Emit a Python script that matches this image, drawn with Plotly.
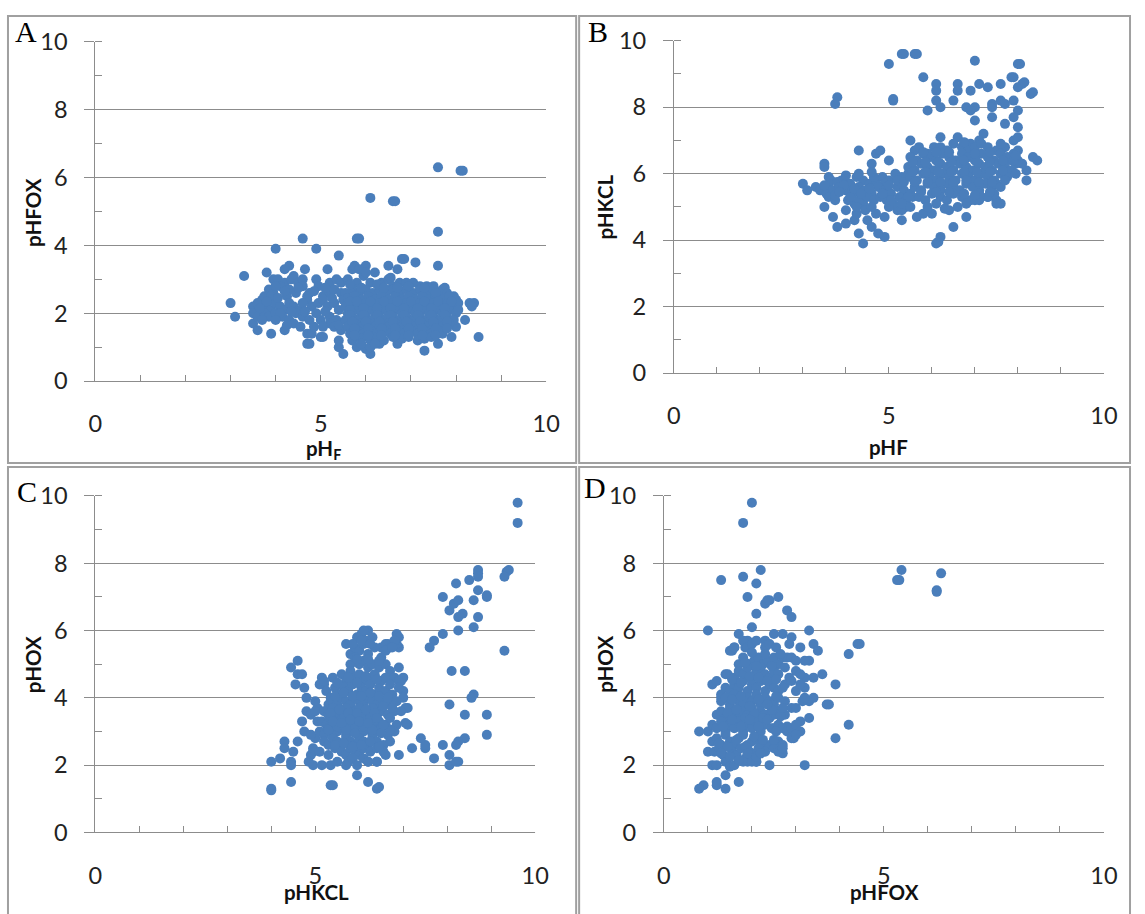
import plotly.graph_objects as go

W, H = 1145, 914
BLUE = "#4A7EBB"
GREY = "#8C8C8C"

# A: pH_F (x) vs pHFOX (y)
pts_a = [
    (7.6, 6.3), (8.1, 6.2), (8.15, 6.2), (6.1, 5.4), (6.6, 5.3), (6.65, 5.3),
    (7.6, 4.4), (4.6, 4.2), (5.8, 4.2), (5.85, 4.2), (4.0, 3.9), (4.9, 3.9),
    (5.4, 3.7), (6.8, 3.6), (6.85, 3.6), (7.1, 3.5), (7.6, 3.4), (3.3, 3.1),
    (3.0, 2.3), (3.1, 1.9), (8.5, 1.3), (3.5, 2.2), (3.5, 2.0), (3.5, 1.7),
    (3.6, 1.5), (3.7, 2.4), (3.8, 3.2), (3.9, 1.4), (4.2, 1.5), (4.7, 1.1),
    (4.75, 1.1), (5.0, 1.3), (5.05, 1.3), (5.4, 1.0), (5.5, 0.8), (5.4, 1.2),
    (6.1, 0.8), (6.0, 0.95), (6.3, 1.1), (6.7, 1.1), (7.3, 0.9), (7.6, 1.1),
    (7.9, 1.3), (8.0, 1.6), (8.2, 1.8), (8.3, 2.3), (8.4, 2.3), (8.35, 2.2),
    (5.15, 3.3), (6.0, 3.4), (6.5, 3.4), (6.7, 3.3), (5.7, 3.3), (5.75, 3.4),
    (4.65, 3.3), (4.3, 3.4), (4.2, 3.3), (4.4, 3.1),
    (3.95, 3.0), (4.05, 3.0), (4.2, 2.9), (4.35, 3.0), (4.5, 2.9), (4.6, 3.0),
    (4.9, 3.0), (5.2, 2.9), (5.35, 3.0), (5.45, 2.9), (4.1, 2.8),
    (3.85, 2.7), (3.95, 2.6), (4.0, 2.8), (4.3, 2.7), (4.45, 2.6), (4.6, 2.8),
    (4.75, 2.6), (4.7, 2.5), (4.95, 2.8), (5.05, 2.5), (5.2, 2.6), (5.3, 2.7),
    (5.45, 2.6), (4.25, 2.5), (3.75, 2.5), (3.9, 2.5),
    (3.6, 2.3), (3.8, 2.2), (3.9, 2.1), (4.0, 2.3), (4.1, 2.2), (4.2, 2.1),
    (4.3, 2.3), (4.4, 2.2), (4.55, 2.1), (4.7, 2.4), (4.8, 2.2), (4.95, 2.3),
    (5.05, 2.4), (5.15, 2.2), (5.3, 2.3), (5.4, 2.1), (5.5, 2.4), (3.7, 2.1),
    (4.6, 2.3),
    (3.6, 1.9), (3.75, 2.0), (3.85, 1.9), (4.0, 2.0), (4.15, 1.9), (4.3, 1.8),
    (4.45, 2.0), (4.6, 1.9), (4.75, 1.8), (4.9, 2.0), (5.0, 1.8), (5.2, 1.9),
    (5.35, 1.8), (4.1, 2.0),
    (4.4, 1.7), (4.55, 1.6), (4.7, 1.4), (4.8, 1.4), (4.85, 1.6), (5.2, 1.7),
    (5.3, 1.6), (5.45, 1.5),
    (3.65, 2.15), (3.8, 2.35), (4.05, 2.45), (4.2, 2.65), (4.5, 2.75), (4.85, 2.65),
    (5.1, 2.75), (4.35, 2.05), (4.65, 2.05), (5.1, 2.05), (5.25, 2.45), (4.0, 1.8),
    (4.25, 1.65), (5.05, 1.6), (5.4, 1.65), (3.7, 1.8),
    (5.6, 3.0), (5.8, 2.9), (5.95, 3.1), (6.1, 2.9), (6.2, 3.2), (6.35, 2.9),
    (6.5, 3.0), (6.55, 3.05), (6.6, 2.8), (6.75, 2.9), (6.9, 2.9), (7.05, 2.9),
    (7.2, 2.8), (7.35, 2.8), (7.5, 2.8), (7.7, 2.7), (5.85, 3.3), (6.0, 3.2),
    (7.75, 2.75),
    (5.55, 2.6), (5.7, 2.7), (5.85, 2.6), (6.0, 2.7), (6.15, 2.6), (6.3, 2.7),
    (6.45, 2.6), (6.6, 2.7), (6.75, 2.6), (6.9, 2.7), (7.05, 2.6), (7.2, 2.7),
    (7.35, 2.6), (7.5, 2.7), (7.65, 2.6), (7.8, 2.6), (7.95, 2.5),
    (5.6, 2.45), (5.75, 2.5), (5.9, 2.4), (6.05, 2.5), (6.2, 2.4), (6.35, 2.5),
    (6.5, 2.4), (6.65, 2.5), (6.8, 2.4), (6.95, 2.5), (7.1, 2.4), (7.25, 2.5),
    (7.4, 2.4), (7.55, 2.5), (7.7, 2.4), (7.85, 2.5), (8.0, 2.4),
    (5.55, 2.2), (5.7, 2.3), (5.85, 2.2), (6.0, 2.3), (6.15, 2.2), (6.3, 2.3),
    (6.45, 2.2), (6.6, 2.3), (6.75, 2.2), (6.9, 2.3), (7.05, 2.2), (7.2, 2.3),
    (7.35, 2.2), (7.5, 2.3), (7.65, 2.2), (7.8, 2.3), (7.95, 2.2), (8.05, 2.3),
    (5.6, 2.0), (5.75, 2.1), (5.9, 2.0), (6.05, 2.1), (6.2, 2.0), (6.35, 2.1),
    (6.5, 2.0), (6.65, 2.1), (6.8, 2.0), (6.95, 2.1), (7.1, 2.0), (7.25, 2.1),
    (7.4, 2.0), (7.55, 2.1), (7.7, 2.0), (7.85, 2.1), (8.0, 2.0),
    (5.55, 1.8), (5.7, 1.9), (5.85, 1.8), (6.0, 1.9), (6.15, 1.8), (6.3, 1.9),
    (6.45, 1.8), (6.6, 1.9), (6.75, 1.8), (6.9, 1.9), (7.05, 1.8), (7.2, 1.9),
    (7.35, 1.8), (7.5, 1.9), (7.65, 1.8), (7.8, 1.9), (7.95, 1.8),
    (5.6, 1.6), (5.75, 1.7), (5.9, 1.6), (6.05, 1.7), (6.2, 1.6), (6.35, 1.7),
    (6.5, 1.6), (6.65, 1.7), (6.8, 1.6), (6.95, 1.7), (7.1, 1.6), (7.25, 1.7),
    (7.4, 1.6), (7.55, 1.7), (7.7, 1.6), (7.85, 1.7),
    (5.65, 1.4), (5.8, 1.5), (5.95, 1.4), (6.1, 1.5), (6.25, 1.4), (6.4, 1.5),
    (6.55, 1.4), (6.7, 1.5), (6.85, 1.4), (7.0, 1.5), (7.15, 1.4), (7.3, 1.5),
    (7.45, 1.4), (7.6, 1.5), (7.7, 1.4),
    (5.7, 1.2), (5.9, 1.25), (6.1, 1.2), (6.25, 1.3), (6.4, 1.2), (6.6, 1.3),
    (6.8, 1.25), (6.95, 1.3), (7.15, 1.2), (7.3, 1.25), (7.45, 1.3),
    (5.8, 1.0), (5.9, 1.1), (6.1, 1.0), (6.2, 1.1),
    (5.65, 2.85), (5.9, 2.75), (6.25, 2.85), (6.4, 2.75), (6.7, 2.75), (6.95, 2.8),
    (7.3, 2.75), (7.55, 2.6),
    (5.65, 2.35), (5.8, 2.35), (6.1, 2.35), (6.4, 2.35), (6.7, 2.35), (7.0, 2.35),
    (7.3, 2.35), (7.6, 2.35), (7.9, 2.35),
    (5.65, 2.1), (5.95, 2.15), (6.25, 2.15), (6.55, 2.15), (6.85, 2.15), (7.15, 2.15),
    (7.45, 2.15), (7.75, 2.15), (8.05, 2.1),
    (5.65, 1.95), (5.95, 1.95), (6.25, 1.95), (6.55, 1.95), (6.85, 1.95), (7.15, 1.95),
    (7.45, 1.95), (7.75, 1.95),
    (5.7, 1.75), (6.0, 1.75), (6.3, 1.75), (6.6, 1.75), (6.9, 1.75), (7.2, 1.75),
    (7.5, 1.75), (7.8, 1.75),
    (5.75, 1.55), (6.05, 1.55), (6.35, 1.55), (6.65, 1.55), (6.95, 1.55), (7.25, 1.55),
    (7.55, 1.55), (7.8, 1.55),
    (5.75, 1.35), (6.05, 1.35), (6.35, 1.35), (6.65, 1.35), (6.95, 1.35), (7.25, 1.35),
    (7.55, 1.35),
]

# B: pHF (x) vs pHKCL (y)
pts_b = [
    (5.3, 9.6), (5.35, 9.6), (5.6, 9.6), (5.65, 9.6), (5.0, 9.3), (7.0, 9.4),
    (8.0, 9.3), (8.05, 9.3), (5.8, 8.9), (6.1, 8.7), (6.1, 8.5), (6.6, 8.7),
    (6.9, 8.5), (7.1, 8.7), (7.3, 8.6), (7.6, 8.7), (7.85, 8.9), (7.9, 8.9),
    (8.0, 8.6), (8.1, 8.7), (8.15, 8.75), (8.3, 8.4), (8.35, 8.45), (3.8, 8.3),
    (3.75, 8.1), (5.1, 8.2), (5.1, 8.25), (6.6, 8.5), (6.5, 8.2), (6.1, 8.2),
    (6.2, 8.0), (5.9, 7.9), (6.8, 8.0), (7.0, 8.0), (6.9, 7.9), (7.4, 8.1),
    (7.4, 8.0), (7.6, 8.2), (7.7, 8.1), (7.9, 8.2), (8.0, 7.9), (7.4, 7.7),
    (7.0, 7.6), (7.7, 7.5), (7.9, 7.7), (8.0, 7.4), (7.9, 7.0), (8.0, 7.1),
    (7.2, 7.2), (7.1, 7.0), (6.2, 7.1), (6.6, 7.1), (5.5, 7.0), (6.9, 6.9),
    (7.7, 6.8),
    (3.0, 5.7), (3.1, 5.5), (3.3, 5.6), (3.5, 6.3), (3.5, 6.2), (3.5, 5.0),
    (3.6, 5.9), (3.6, 5.6), (3.7, 4.7), (3.8, 4.4), (3.9, 5.8), (4.0, 4.9),
    (4.0, 4.5), (4.3, 6.7), (4.3, 4.2), (4.4, 3.9), (4.6, 6.3), (4.7, 6.6),
    (4.8, 6.7), (4.7, 4.8), (4.9, 4.1), (4.9, 4.7), (5.0, 6.4), (5.3, 4.6),
    (4.75, 4.2), (4.6, 4.4), (4.5, 4.6), (4.2, 4.6), (4.25, 4.8), (4.4, 5.1),
    (4.2, 5.1), (4.05, 5.2), (5.2, 4.9), (5.4, 5.0), (5.65, 4.7), (5.8, 4.8),
    (6.0, 4.8), (6.1, 3.9), (6.15, 3.95), (6.2, 4.1), (6.4, 4.9), (6.5, 4.4),
    (6.8, 4.7), (7.5, 5.2), (7.6, 5.1), (7.5, 5.1), (7.0, 5.2), (7.1, 5.2),
    (7.3, 5.3), (8.2, 5.8), (8.2, 6.1), (8.1, 6.3), (8.35, 6.5), (8.45, 6.4),
    (7.85, 6.4), (8.0, 6.4), (7.5, 5.7), (7.0, 5.6), (7.9, 6.6), (8.0, 6.7),
    (7.95, 6.3),
    (3.65, 5.8), (3.8, 5.75), (3.95, 5.8), (4.1, 5.7), (4.25, 5.9), (4.4, 5.8),
    (4.55, 5.7), (4.7, 5.8), (4.85, 5.9), (5.0, 5.8), (5.15, 6.0), (5.3, 5.9),
    (5.45, 6.0), (4.3, 6.0), (4.9, 5.7),
    (3.4, 5.5), (3.55, 5.4), (3.7, 5.5), (3.85, 5.6), (4.0, 5.5), (4.15, 5.4),
    (4.3, 5.6), (4.45, 5.5), (4.6, 5.4), (4.75, 5.6), (4.9, 5.5), (5.05, 5.4),
    (5.2, 5.6), (5.35, 5.5), (5.5, 5.4),
    (3.6, 5.3), (3.75, 5.2), (4.1, 5.3), (4.3, 5.2), (4.5, 5.3), (4.65, 5.2),
    (4.8, 5.3), (4.95, 5.2), (5.1, 5.1), (5.25, 5.3), (5.4, 5.2), (5.55, 5.3),
    (4.25, 5.0), (4.45, 4.9), (4.6, 5.0), (5.0, 5.0), (5.3, 4.9), (5.5, 5.0),
    (3.5, 5.65), (3.75, 5.35), (3.95, 5.65), (4.2, 5.55), (4.35, 5.4), (4.55, 5.55),
    (4.65, 5.9), (4.85, 5.4), (5.0, 5.65), (5.2, 5.8), (5.35, 5.75), (5.45, 5.3),
    (4.0, 5.95), (4.6, 6.05), (3.85, 5.45), (5.05, 5.2), (5.3, 5.1),
    (5.6, 6.7), (5.7, 6.8), (5.9, 6.6), (6.05, 6.8), (6.2, 6.8), (6.35, 6.7),
    (6.5, 6.9), (6.7, 6.8), (6.85, 6.7), (7.0, 6.8), (7.15, 6.9), (7.3, 6.8),
    (7.5, 6.7), (7.65, 6.8),
    (5.5, 6.5), (5.65, 6.4), (5.8, 6.6), (5.95, 6.5), (6.1, 6.4), (6.25, 6.6),
    (6.4, 6.5), (6.55, 6.4), (6.7, 6.6), (6.85, 6.5), (7.0, 6.4), (7.15, 6.6),
    (7.3, 6.5), (7.45, 6.4), (7.6, 6.6), (7.75, 6.5), (7.9, 6.4),
    (5.45, 6.2), (5.6, 6.1), (5.75, 6.3), (5.9, 6.2), (6.05, 6.1), (6.2, 6.3),
    (6.35, 6.2), (6.5, 6.1), (6.65, 6.3), (6.8, 6.2), (6.95, 6.1), (7.1, 6.3),
    (7.25, 6.2), (7.4, 6.1), (7.55, 6.3), (7.7, 6.2), (7.85, 6.1),
    (5.5, 5.9), (5.65, 5.8), (5.8, 6.0), (5.95, 5.9), (6.1, 5.8), (6.25, 6.0),
    (6.4, 5.9), (6.55, 5.8), (6.7, 6.0), (6.85, 5.9), (7.0, 5.8), (7.15, 6.0),
    (7.3, 5.9), (7.45, 5.8), (7.6, 6.0), (7.75, 5.9),
    (5.6, 5.6), (5.75, 5.5), (5.9, 5.7), (6.05, 5.6), (6.2, 5.5), (6.35, 5.7),
    (6.5, 5.6), (6.65, 5.5), (6.8, 5.7), (6.95, 5.6), (7.1, 5.5), (7.25, 5.7),
    (7.4, 5.6), (7.6, 5.6), (7.7, 5.8),
    (5.7, 5.3), (5.85, 5.2), (6.0, 5.4), (6.2, 5.3), (6.35, 5.2), (6.5, 5.4),
    (6.7, 5.3), (6.9, 5.2), (7.1, 5.4), (7.3, 5.3), (7.45, 5.4),
    (5.9, 5.0), (6.1, 5.1), (6.3, 4.95), (6.6, 5.0), (6.8, 5.1),
    (5.55, 6.35), (5.85, 6.35), (6.15, 6.35), (6.45, 6.35), (6.75, 6.4), (7.05, 6.35),
    (7.35, 6.35), (7.65, 6.4), (7.95, 6.55),
    (5.55, 6.05), (5.85, 6.05), (6.15, 6.05), (6.45, 6.05), (6.75, 6.05), (7.05, 6.05),
    (7.35, 6.05), (7.65, 6.1), (7.95, 6.0),
    (5.6, 5.75), (5.9, 5.75), (6.2, 5.75), (6.5, 5.75), (6.8, 5.8), (7.1, 5.75),
    (7.4, 5.75),
    (5.75, 5.45), (6.1, 5.45), (6.4, 5.45), (6.75, 5.4), (7.0, 5.35), (7.35, 5.45),
    (5.8, 6.65), (6.1, 6.65), (6.4, 6.65), (6.75, 6.95), (7.0, 6.6), (7.35, 6.65),
    (7.6, 6.9),
]

# C: pHKCL (x) vs pHOX (y)
pts_c = [
    (9.6, 9.8), (9.6, 9.2), (9.4, 7.8), (9.35, 7.75), (9.3, 7.6), (9.3, 5.4),
    (8.7, 7.8), (8.7, 7.7), (8.7, 7.6), (8.7, 7.2), (8.5, 7.5), (8.9, 7.0),
    (8.9, 7.05), (8.2, 7.4), (7.9, 7.0), (8.05, 6.6), (8.15, 6.8), (8.25, 6.9),
    (8.25, 6.4), (8.35, 6.5), (8.6, 6.9), (8.7, 6.4), (8.6, 6.1), (8.25, 6.0),
    (7.9, 5.9), (7.7, 5.7), (7.6, 5.5), (8.1, 4.8), (8.4, 4.8), (8.6, 4.1),
    (8.55, 4.0), (8.05, 3.8), (8.4, 3.5), (8.9, 3.5), (8.9, 2.9), (8.4, 2.8),
    (8.25, 2.7), (8.2, 2.6), (7.9, 2.6), (8.05, 2.3), (8.05, 2.0), (8.25, 2.1),
    (8.2, 2.1), (7.7, 2.2), (7.5, 2.5), (7.5, 2.6), (7.4, 2.8), (7.2, 2.5),
    (6.9, 2.3), (7.1, 3.2), (7.1, 3.7), (7.0, 4.2), (7.0, 4.6), (6.85, 5.9),
    (6.9, 5.5), (6.65, 5.6), (6.5, 5.5), (6.2, 6.0), (5.7, 5.6), (4.6, 5.1),
    (4.45, 4.9), (4.6, 4.7), (4.7, 4.7), (4.55, 4.4), (4.75, 4.3), (4.8, 4.0),
    (4.8, 3.6), (4.7, 3.3), (4.75, 3.0), (4.6, 2.7), (4.5, 2.4), (4.3, 2.7),
    (4.3, 2.5), (4.2, 2.2), (4.0, 2.1), (4.0, 1.3), (4.0, 1.25), (4.45, 1.5),
    (4.45, 2.1), (4.45, 2.0), (4.95, 2.0), (4.95, 2.4), (5.15, 2.0), (5.35, 1.4),
    (5.4, 1.4), (5.35, 2.0), (5.95, 1.7), (6.2, 1.5), (6.4, 1.3), (6.45, 1.35),
    (6.4, 2.1), (6.2, 2.1), (5.15, 4.6), (5.2, 4.4), (5.05, 3.7),
    (4.9, 2.3), (4.95, 2.5), (5.0, 2.8), (5.05, 3.3), (4.9, 3.5), (5.0, 3.9),
    (5.1, 4.4), (5.2, 4.5), (4.85, 2.1), (4.9, 2.9), (5.0, 3.6),
    (6.9, 4.9), (6.95, 4.5), (7.0, 4.0), (7.05, 3.7), (7.05, 3.25), (6.85, 5.6),
    (6.6, 5.6), (6.9, 5.8), (6.8, 5.7), (6.7, 5.5),
    (5.95, 5.8), (6.05, 5.9), (6.1, 6.0), (6.15, 5.7), (6.3, 5.8),
    (5.8, 5.3), (5.9, 5.5), (6.0, 5.4), (6.1, 5.6), (6.2, 5.3), (6.35, 5.5),
    (6.5, 5.2), (6.6, 5.4), (6.75, 5.5),
    (5.8, 5.0), (5.9, 5.2), (6.0, 5.0), (6.1, 5.1), (6.2, 4.9), (6.3, 5.0),
    (6.45, 4.9), (6.6, 5.0), (6.7, 4.8),
    (5.4, 4.6), (5.6, 4.7), (5.7, 4.5), (5.8, 4.8), (5.9, 4.6), (6.0, 4.7),
    (6.1, 4.5), (6.2, 4.6), (6.35, 4.7), (6.5, 4.5), (6.6, 4.6), (6.8, 4.6),
    (6.9, 4.5),
    (5.25, 4.2), (5.35, 4.0), (5.45, 4.3), (5.55, 4.1), (5.65, 4.3), (5.75, 4.2),
    (5.85, 4.4), (5.95, 4.1), (6.05, 4.3), (6.15, 4.2), (6.25, 4.4), (6.35, 4.1),
    (6.45, 4.3), (6.6, 4.2), (6.75, 4.1), (6.9, 4.3),
    (5.3, 3.8), (5.4, 3.9), (5.5, 3.8), (5.6, 4.0), (5.7, 3.9), (5.8, 3.8),
    (5.9, 4.0), (6.0, 3.9), (6.1, 3.8), (6.2, 4.0), (6.3, 3.9), (6.4, 3.8),
    (6.55, 3.9), (6.7, 3.8), (6.85, 3.9),
    (5.2, 3.6), (5.3, 3.5), (5.4, 3.7), (5.5, 3.5), (5.6, 3.6), (5.7, 3.7),
    (5.8, 3.5), (5.9, 3.6), (6.0, 3.7), (6.1, 3.5), (6.2, 3.6), (6.3, 3.7),
    (6.4, 3.5), (6.5, 3.6), (6.65, 3.5), (6.8, 3.6), (6.95, 3.6),
    (5.15, 3.3), (5.25, 3.2), (5.35, 3.4), (5.45, 3.2), (5.55, 3.3), (5.65, 3.4),
    (5.75, 3.2), (5.85, 3.3), (5.95, 3.4), (6.05, 3.2), (6.15, 3.3), (6.25, 3.4),
    (6.35, 3.2), (6.45, 3.3), (6.6, 3.2), (6.7, 3.4), (6.85, 3.2),
    (5.1, 3.0), (5.2, 2.9), (5.3, 3.1), (5.4, 2.9), (5.5, 3.0), (5.6, 3.1),
    (5.7, 2.9), (5.8, 3.0), (5.9, 3.1), (6.0, 2.9), (6.1, 3.0), (6.2, 3.1),
    (6.3, 2.9), (6.4, 3.0), (6.5, 3.1), (6.65, 2.9), (6.8, 3.0),
    (5.2, 2.7), (5.3, 2.6), (5.4, 2.8), (5.5, 2.7), (5.6, 2.6), (5.7, 2.8),
    (5.8, 2.7), (5.9, 2.6), (6.0, 2.8), (6.1, 2.7), (6.2, 2.6), (6.3, 2.8),
    (6.4, 2.7), (6.55, 2.6), (6.7, 2.7),
    (5.1, 2.4), (5.3, 2.3), (5.45, 2.5), (5.6, 2.4), (5.7, 2.3), (5.8, 2.5),
    (5.9, 2.4), (6.0, 2.3), (6.1, 2.5), (6.25, 2.4), (6.4, 2.5), (6.55, 2.4),
    (6.6, 2.3),
    (5.5, 2.1), (5.7, 2.0), (5.75, 2.1), (5.85, 2.2), (5.95, 2.0), (6.1, 2.2),
    (6.2, 2.1), (6.4, 2.1),
    (5.35, 3.55), (5.55, 3.65), (5.75, 3.55), (5.95, 3.55), (6.15, 3.65), (6.35, 3.55),
    (6.55, 3.75), (6.75, 3.7),
    (5.3, 3.05), (5.5, 3.15), (5.7, 3.05), (5.9, 2.95), (6.1, 3.15), (6.3, 3.05),
    (6.5, 2.95), (6.7, 3.05),
    (5.45, 2.6), (5.65, 2.65), (5.85, 2.55), (6.05, 2.6), (6.25, 2.7), (6.45, 2.55),
    (5.45, 4.05), (5.65, 4.15), (5.85, 4.05), (6.05, 4.05), (6.25, 4.15), (6.45, 4.05),
    (6.65, 4.0),
    (5.5, 4.45), (5.75, 4.6), (5.95, 4.45), (6.15, 4.65), (6.4, 4.55), (6.7, 4.4),
    (5.4, 3.3), (5.6, 3.25), (5.8, 3.35), (6.0, 3.3), (6.2, 3.25), (6.4, 3.4),
    (6.55, 3.2),
    (5.95, 5.15), (6.2, 5.15), (6.45, 5.1), (5.85, 5.6), (6.05, 5.7), (6.25, 5.6),
]

# D: pHFOX (x) vs pHOX (y)
pts_d = [
    (2.0, 9.8), (1.8, 9.2), (2.2, 7.8), (1.3, 7.5), (1.8, 7.6), (2.1, 7.4),
    (1.9, 7.0), (2.3, 6.8), (2.35, 6.9), (2.4, 6.9), (2.6, 7.0), (2.8, 6.6),
    (2.9, 6.4), (2.1, 6.5), (2.0, 6.1), (1.0, 6.0), (5.3, 7.5), (5.35, 7.5),
    (5.4, 7.8), (6.2, 7.2), (6.2, 7.15), (6.3, 7.7), (4.4, 5.6), (4.45, 5.6),
    (4.2, 5.3), (3.3, 6.0), (3.4, 5.6), (3.5, 5.4), (3.1, 5.5), (3.3, 5.1),
    (3.6, 4.7), (3.4, 4.6), (3.9, 4.4), (3.7, 3.8), (3.75, 3.8), (3.3, 3.4),
    (3.9, 2.8), (4.2, 3.2), (3.2, 2.0), (2.4, 2.0), (2.1, 2.1), (1.9, 2.1),
    (1.7, 1.5), (1.4, 1.3), (1.4, 1.7), (1.2, 1.4), (1.2, 1.5), (0.9, 1.4),
    (0.8, 1.3), (0.8, 3.0), (1.0, 2.4), (1.1, 2.0), (1.1, 4.4), (1.2, 4.5),
    (1.3, 4.1), (1.3, 4.0), (1.4, 4.7), (1.55, 5.4), (1.6, 5.5), (1.7, 5.9),
    (1.9, 5.7), (1.85, 5.5), (2.3, 5.7), (2.35, 5.6), (2.5, 5.9), (2.7, 5.9),
    (2.9, 5.8), (2.85, 5.6), (3.3, 3.9), (3.4, 4.0), (3.2, 4.3), (3.2, 4.6),
    (3.1, 3.3), (2.95, 2.8), (2.8, 3.15), (2.7, 2.35), (2.5, 3.1),
    (1.5, 5.4), (1.6, 5.5), (1.8, 5.7), (1.9, 5.5), (2.0, 5.6), (2.1, 5.7),
    (2.3, 5.5), (2.4, 5.6), (2.55, 5.5),
    (1.7, 5.0), (1.8, 5.2), (1.95, 5.0), (2.05, 5.1), (2.15, 5.2), (2.25, 5.0),
    (2.35, 5.1), (2.5, 5.2), (2.6, 5.0), (2.7, 5.2), (2.8, 5.2), (2.9, 5.2),
    (3.0, 5.1), (3.2, 5.1),
    (1.45, 4.7), (1.6, 4.6), (1.7, 4.8), (1.8, 4.7), (1.9, 4.9), (2.0, 4.6),
    (2.1, 4.8), (2.2, 4.9), (2.3, 4.7), (2.4, 4.6), (2.5, 4.8), (2.6, 4.7),
    (2.75, 4.9), (2.85, 4.6), (3.0, 4.8), (3.1, 4.7),
    (1.4, 4.3), (1.5, 4.2), (1.6, 4.4), (1.7, 4.3), (1.8, 4.5), (1.9, 4.2),
    (2.0, 4.4), (2.1, 4.3), (2.2, 4.5), (2.3, 4.2), (2.4, 4.4), (2.5, 4.3),
    (2.6, 4.2), (2.75, 4.4), (2.9, 4.5), (3.0, 4.2), (3.1, 4.4),
    (1.3, 3.9), (1.4, 4.0), (1.5, 3.8), (1.6, 4.1), (1.7, 3.9), (1.8, 3.8),
    (1.9, 4.0), (2.0, 3.9), (2.1, 4.1), (2.2, 3.8), (2.3, 4.0), (2.4, 3.9),
    (2.5, 3.8), (2.6, 4.0), (2.75, 3.9), (2.9, 3.7), (3.0, 3.7), (3.15, 3.9),
    (3.2, 4.0),
    (1.2, 3.5), (1.3, 3.6), (1.4, 3.4), (1.5, 3.7), (1.6, 3.5), (1.7, 3.4),
    (1.8, 3.6), (1.9, 3.5), (2.0, 3.7), (2.1, 3.4), (2.2, 3.6), (2.3, 3.5),
    (2.4, 3.4), (2.5, 3.5), (2.6, 3.6), (2.75, 3.5),
    (1.0, 3.0), (1.1, 3.2), (1.2, 3.1), (1.3, 3.3), (1.4, 3.0), (1.5, 3.2),
    (1.6, 3.1), (1.7, 3.3), (1.8, 3.0), (1.9, 3.2), (2.0, 3.1), (2.1, 3.3),
    (2.2, 3.0), (2.3, 3.2), (2.45, 3.1), (2.6, 3.2), (2.7, 3.1), (2.8, 3.0),
    (2.9, 3.1), (3.0, 3.2), (3.1, 3.0),
    (1.1, 2.7), (1.2, 2.8), (1.3, 2.6), (1.4, 2.9), (1.5, 2.7), (1.6, 2.6),
    (1.7, 2.8), (1.8, 2.9), (1.9, 2.6), (2.0, 2.7), (2.1, 2.8), (2.2, 2.6),
    (2.4, 2.6), (2.6, 2.7), (2.7, 2.6), (2.9, 2.8), (3.0, 2.9),
    (1.15, 2.4), (1.25, 2.5), (1.35, 2.3), (1.45, 2.2), (1.55, 2.4), (1.65, 2.3),
    (1.75, 2.5), (1.85, 2.2), (1.95, 2.4), (2.05, 2.3), (2.15, 2.5), (2.3, 2.4),
    (2.5, 2.5), (2.6, 2.4), (2.7, 2.5),
    (1.2, 2.0), (1.4, 2.1), (1.5, 1.95), (1.6, 2.0), (1.8, 2.1), (2.0, 2.1),
    (2.1, 2.1),
    (1.45, 3.55), (1.65, 3.65), (1.85, 3.4), (2.05, 3.55), (2.25, 3.4), (2.45, 3.65),
    (2.65, 3.45),
    (1.35, 3.15), (1.55, 3.35), (1.75, 3.15), (1.95, 3.35), (2.15, 3.15), (2.35, 3.35),
    (2.55, 3.0),
    (1.25, 2.65), (1.45, 2.55), (1.65, 2.75), (1.85, 2.55), (2.05, 2.85), (2.25, 2.75),
    (2.5, 2.75),
    (1.3, 2.35), (1.5, 2.25), (1.7, 2.15), (1.9, 2.35), (2.1, 2.25), (2.2, 2.35),
    (1.55, 3.95), (1.75, 4.05), (1.95, 3.75), (2.15, 3.95), (2.35, 3.8), (2.55, 4.05),
    (2.7, 3.7),
    (1.55, 4.55), (1.75, 4.45), (1.95, 4.65), (2.15, 4.6), (2.35, 4.5), (2.55, 4.55),
    (2.7, 4.3),
    (1.85, 5.05), (2.1, 4.95), (2.3, 5.3), (2.45, 4.95), (2.65, 5.3), (2.0, 5.35),
]

panels = [pts_a, pts_b, pts_c, pts_d]
letters = ["A", "B", "C", "D"]
x_titles = ["pH<sub>F</sub>", "pHF", "pHKCL", "pHFOX"]
y_titles = ["pHFOX", "pHKCL", "pHOX", "pHOX"]

# wanted spots in the final picture, pixels: plot area (left, right, top, bottom), frame, labels
areas = [(95, 547, 41, 381), (675, 1106, 40, 373), (95, 536, 496, 833), (665, 1106, 496, 833)]
frames = [(7, 577, 11, 463), (580, 1143, 11, 463), (7, 577, 467, 940), (580, 1143, 467, 940)]
letter_pos = [(26, 31), (599, 31), (27, 492), (596, 487)]
xtitle_pos = [(324, 449), (890, 447), (317, 893), (886, 893)]
ytitle_pos = [(33, 212), (606, 207), (32, 665), (606, 665)]

# the photo of the page comes back slightly shrunk and offset; undo that
SX, OX, SY, OY = 0.984, 6.5, 0.971, 14.2


def fx(p, clamp=False):
    v = (p - OX) / SX
    if clamp:
        v = min(max(v, 1), W - 1)
    return v / W


def fy(p, clamp=False):
    v = (p - OY) / SY
    if clamp:
        v = min(max(v, 1), H + 20)
    return 1 - v / H


tick_font = dict(family="Lato, Open Sans, sans-serif", size=23.5, color="#222222")
title_font = dict(family="Lato, Open Sans, sans-serif", size=20.5, color="#111111")

fig = go.Figure()
shapes = []
notes = []
for i, pts in enumerate(panels):
    n = "" if i == 0 else str(i + 1)
    xs = [p[0] for p in pts]
    ys = [p[1] for p in pts]
    fig.add_trace(go.Scatter(
        x=xs, y=ys, mode="markers", xaxis="x" + n, yaxis="y" + n,
        marker=dict(color=BLUE, size=10, line=dict(width=0)),
        showlegend=False, hoverinfo="skip",
    ))
    l, r, t, b = areas[i]
    fig.update_layout(**{
        "xaxis" + n: dict(
            domain=[fx(l), fx(r)], anchor="y" + n, range=[0, 10],
            tick0=0, dtick=5, ticks="inside", ticklen=6, tickcolor=GREY, tickwidth=1,
            minor=dict(tick0=0, dtick=1, ticks="inside", ticklen=6,
                       tickcolor=GREY, showgrid=False),
            showline=True, linecolor=GREY, linewidth=1,
            showgrid=False, zeroline=False, tickfont=tick_font,
            ticklabelstandoff=22,
        ),
        "yaxis" + n: dict(
            domain=[fy(b), fy(t)], anchor="x" + n, range=[0, 10],
            tick0=0, dtick=2, ticks="outside", ticklen=10, tickcolor=GREY,
            tickwidth=1, showline=True, linecolor=GREY, linewidth=1,
            showgrid=True, gridcolor=GREY, gridwidth=1, zeroline=False,
            minor=dict(tick0=0, dtick=1, ticks="inside", ticklen=7,
                       tickcolor=GREY, showgrid=False),
            tickfont=tick_font, ticklabelstandoff=12,
        ),
    })
    # axis ends poking below the x axis
    for xv in (0, 10):
        shapes.append(dict(
            type="line", xref="x" + n, yref="y" + n, x0=xv, x1=xv,
            ysizemode="pixel", yanchor=0, y0=-9, y1=0,
            line=dict(color=GREY, width=1),
        ))
    fl, fr, ft, fb = frames[i]
    shapes.append(dict(
        type="rect", xref="paper", yref="paper",
        x0=fx(fl, True), x1=fx(fr, True), y0=fy(fb, True), y1=fy(ft, True),
        line=dict(color="#A0A0A0", width=2), fillcolor="rgba(0,0,0,0)",
    ))
    lx, ly = letter_pos[i]
    notes.append(dict(
        text=letters[i], x=fx(lx), y=fy(ly), xref="paper", yref="paper",
        xanchor="center", yanchor="middle", showarrow=False,
        font=dict(family="Liberation Serif, serif", size=30, color="#000000"),
    ))
    tx, ty = xtitle_pos[i]
    notes.append(dict(
        text="<b>" + x_titles[i] + "</b>", x=fx(tx), y=fy(ty),
        xref="paper", yref="paper", xanchor="center", yanchor="middle",
        showarrow=False, font=title_font,
    ))
    vx, vy = ytitle_pos[i]
    notes.append(dict(
        text="<b>" + y_titles[i] + "</b>", x=fx(vx), y=fy(vy),
        xref="paper", yref="paper", xanchor="center", yanchor="middle",
        showarrow=False, textangle=-90, font=title_font,
    ))

fig.update_layout(
    width=W, height=H, margin=dict(l=0, r=0, t=0, b=0),
    paper_bgcolor="white", plot_bgcolor="white",
    shapes=shapes, annotations=notes,
)

fig.write_html(
    "out.html",
    config={"displayModeBar": False},
    post_script="document.body.style.margin='0';document.body.style.overflow='hidden';",
)
